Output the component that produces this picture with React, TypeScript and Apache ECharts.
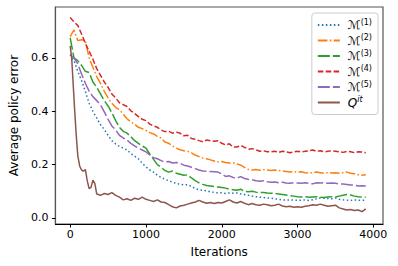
import React, { useEffect, useRef } from "react";
import * as echarts from "echarts";

const ITER = [
  0, 50, 100, 150, 200, 250, 300, 350, 400, 450, 500, 550, 600, 650, 700, 750, 800, 850, 900, 950,
  1000, 1050, 1100, 1150, 1200, 1250, 1300, 1350, 1400, 1450, 1500, 1550, 1600, 1650, 1700, 1750, 1800, 1850, 1900, 1950,
  2000, 2050, 2100, 2150, 2200, 2250, 2300, 2350, 2400, 2450, 2500, 2550, 2600, 2650, 2700, 2750, 2800, 2850, 2900, 2950,
  3000, 3050, 3100, 3150, 3200, 3250, 3300, 3350, 3400, 3450, 3500, 3550, 3600, 3650, 3700, 3750, 3800, 3850, 3900,
];

const M1 = [
  0.612, 0.59, 0.55, 0.515, 0.475, 0.43, 0.4, 0.375, 0.35, 0.332, 0.31, 0.29, 0.278, 0.268, 0.262, 0.255, 0.242, 0.232, 0.222, 0.205,
  0.192, 0.18, 0.172, 0.16, 0.152, 0.145, 0.14, 0.134, 0.13, 0.126, 0.124, 0.125, 0.118, 0.11, 0.106, 0.104, 0.102, 0.098, 0.096, 0.094,
  0.095, 0.092, 0.094, 0.093, 0.094, 0.09, 0.088, 0.085, 0.082, 0.08, 0.078, 0.077, 0.075, 0.074, 0.072, 0.07, 0.068, 0.067, 0.068, 0.067,
  0.066, 0.067, 0.068, 0.066, 0.068, 0.072, 0.075, 0.074, 0.073, 0.072, 0.075, 0.07, 0.068, 0.067, 0.066, 0.068, 0.067, 0.066, 0.067,
];

const M2 = [
  0.68, 0.705, 0.665, 0.668, 0.665, 0.6, 0.565, 0.53, 0.505, 0.475, 0.45, 0.43, 0.415, 0.405, 0.39, 0.372, 0.36, 0.352, 0.34, 0.335,
  0.328, 0.32, 0.315, 0.306, 0.3, 0.285, 0.28, 0.27, 0.262, 0.256, 0.252, 0.25, 0.244, 0.236, 0.23, 0.225, 0.222, 0.218, 0.214, 0.21,
  0.212, 0.208, 0.206, 0.207, 0.203, 0.198, 0.19, 0.182, 0.18, 0.182, 0.179, 0.181, 0.18, 0.178, 0.18, 0.178, 0.176, 0.174, 0.172, 0.174,
  0.172, 0.173, 0.17, 0.168, 0.17, 0.172, 0.17, 0.168, 0.17, 0.169, 0.17, 0.168, 0.17, 0.172, 0.168, 0.166, 0.162, 0.16, 0.162,
];

const M3 = [
  0.675, 0.6, 0.59, 0.572, 0.55, 0.545, 0.51, 0.49, 0.465, 0.44, 0.42, 0.395, 0.365, 0.34, 0.325, 0.318, 0.305, 0.29, 0.28, 0.27,
  0.262, 0.24, 0.22, 0.2, 0.19, 0.178, 0.172, 0.176, 0.168, 0.164, 0.16, 0.162, 0.15, 0.14, 0.132, 0.126, 0.122, 0.12, 0.118, 0.116,
  0.114, 0.112, 0.108, 0.106, 0.104, 0.108, 0.1, 0.098, 0.1, 0.097, 0.095, 0.096, 0.094, 0.093, 0.092, 0.09, 0.088, 0.086, 0.084, 0.082,
  0.08, 0.079, 0.08, 0.078, 0.079, 0.08, 0.078, 0.077, 0.079, 0.08, 0.079, 0.082, 0.085, 0.088, 0.086, 0.082, 0.08, 0.079, 0.078,
];

const M4 = [
  0.752, 0.735, 0.722, 0.69, 0.655, 0.625, 0.595, 0.56, 0.535, 0.51, 0.49, 0.465, 0.45, 0.432, 0.425, 0.418, 0.402, 0.392, 0.38, 0.37,
  0.365, 0.352, 0.345, 0.34, 0.33, 0.324, 0.325, 0.318, 0.322, 0.318, 0.308, 0.31, 0.298, 0.295, 0.29, 0.286, 0.292, 0.29, 0.288, 0.29,
  0.28, 0.274, 0.278, 0.266, 0.266, 0.272, 0.265, 0.258, 0.26, 0.256, 0.25, 0.252, 0.248, 0.248, 0.25, 0.246, 0.25, 0.248, 0.245, 0.248,
  0.25, 0.247, 0.25, 0.252, 0.255, 0.25, 0.252, 0.248, 0.25, 0.252, 0.25, 0.248, 0.246, 0.25, 0.248, 0.245, 0.248, 0.247, 0.245,
];

const M5 = [
  0.612, 0.6, 0.578, 0.54, 0.505, 0.475, 0.455, 0.44, 0.425, 0.398, 0.37, 0.345, 0.33, 0.31, 0.3, 0.292, 0.28, 0.27, 0.262, 0.255,
  0.248, 0.236, 0.226, 0.222, 0.215, 0.21, 0.212, 0.206, 0.208, 0.205, 0.198, 0.195, 0.19, 0.185, 0.18, 0.176, 0.175, 0.174, 0.173, 0.172,
  0.165, 0.156, 0.158, 0.152, 0.15, 0.155, 0.148, 0.145, 0.143, 0.14, 0.138, 0.14, 0.136, 0.134, 0.135, 0.132, 0.134, 0.131, 0.13, 0.132,
  0.131, 0.13, 0.132, 0.13, 0.128, 0.132, 0.131, 0.133, 0.13, 0.131, 0.13, 0.128, 0.127, 0.126, 0.124, 0.123, 0.12, 0.121, 0.12,
];

const QIT_ITER = [
  0, 20, 40, 60, 80, 100, 125, 150, 175, 200, 225, 250, 275, 300, 325, 350,
  400, 450, 500, 550, 600, 650, 700, 750, 800, 850, 900, 950,
  1000, 1050, 1100, 1150, 1200, 1250, 1300, 1350, 1400, 1450, 1500, 1550, 1600, 1650, 1700, 1750, 1800, 1850, 1900, 1950,
  2000, 2050, 2100, 2150, 2200, 2250, 2300, 2350, 2400, 2450, 2500, 2550, 2600, 2650, 2700, 2750, 2800, 2850, 2900, 2950,
  3000, 3050, 3100, 3150, 3200, 3250, 3300, 3350, 3400, 3450, 3500, 3550, 3600, 3650, 3700, 3750, 3800, 3850, 3900,
];

const QIT = [
  0.645, 0.6, 0.5, 0.4, 0.31, 0.235, 0.195, 0.18, 0.175, 0.182, 0.14, 0.11, 0.115, 0.142, 0.13, 0.09,
  0.085, 0.092, 0.088, 0.095, 0.085, 0.078, 0.068, 0.072, 0.066, 0.074, 0.07, 0.078,
  0.07, 0.066, 0.062, 0.068, 0.06, 0.058, 0.05, 0.042, 0.038, 0.045, 0.048, 0.052, 0.056, 0.06, 0.066, 0.06, 0.055, 0.058, 0.054, 0.058,
  0.056, 0.062, 0.068, 0.06, 0.056, 0.062, 0.055, 0.05, 0.054, 0.05, 0.048, 0.052, 0.05, 0.046, 0.048, 0.052, 0.045, 0.042, 0.044, 0.04,
  0.042, 0.04, 0.044, 0.046, 0.05, 0.048, 0.052, 0.048, 0.044, 0.046, 0.048, 0.038, 0.034, 0.03, 0.032, 0.028, 0.03, 0.024, 0.034,
];

const X_TICKS = [0, 1000, 2000, 3000, 4000];
const Y_TICKS = [0, 0.2, 0.4, 0.6];

const FONT = "DejaVu Sans";

export default function App() {
  const ref = useRef<HTMLDivElement>(null);

  useEffect(() => {
    if (!ref.current) return;
    const chart = echarts.init(ref.current, null, { renderer: "svg" });

    const mk = (name: string, xs: number[], ys: number[], color: string, type: any) => ({
      name,
      type: "line",
      data: xs.map((x, i) => [x, ys[i]]),
      showSymbol: false,
      symbol: "none",
      lineStyle: { color, width: 1.5, type, cap: "butt" },
      itemStyle: { color },
      emphasis: { disabled: true },
    });

    const labelMap: Record<string, string> = {
      M1: "{m|ℳ}{s|(1)}",
      M2: "{m|ℳ}{s|(2)}",
      M3: "{m|ℳ}{s|(3)}",
      M4: "{m|ℳ}{s|(4)}",
      M5: "{m|ℳ}{s|(5)}",
      Qit: "{q|Q}{si|it}",
    };

    chart.setOption({
      animation: false,
      grid: {
        left: 49,
        right: 15,
        top: 7,
        bottom: 42,
        show: true,
        borderColor: "#555",
        borderWidth: 1.2,
      },
      legend: {
        orient: "vertical",
        right: 20,
        top: 13,
        itemWidth: 22,
        itemHeight: 10,
        itemGap: 2.5,
        padding: [5, 6, 6, 5],
        borderColor: "#cccccc",
        borderWidth: 1,
        borderRadius: 3,
        backgroundColor: "rgba(255,255,255,0.8)",
        itemStyle: { opacity: 0 },
        formatter: (n: string) => labelMap[n] ?? n,
        textStyle: {
          fontFamily: FONT,
          fontSize: 10,
          color: "#000",
          rich: {
            m: { fontFamily: FONT, fontSize: 12, fontStyle: "italic", padding: [0, 0, 0, 3], color: "#000" },
            s: { fontFamily: FONT, fontSize: 8, padding: [0, 0, 6, 0], color: "#000" },
            q: { fontFamily: FONT, fontSize: 12, fontStyle: "italic", padding: [0, 0, 0, 3], color: "#000" },
            si: { fontFamily: FONT, fontSize: 8, fontStyle: "italic", padding: [0, 0, 6, 0], color: "#000" },
          },
        },
        data: ["M1", "M2", "M3", "M4", "M5", "Qit"],
      },
      xAxis: {
        type: "value",
        min: -195,
        max: 4127,
        name: "Iterations",
        nameLocation: "middle",
        nameGap: 22,
        nameTextStyle: { fontFamily: FONT, fontSize: 12, color: "#000" },
        axisLine: { show: true, onZero: false, lineStyle: { color: "#000", width: 1 } },
        axisTick: { show: true, length: 3.5, lineStyle: { color: "#000" }, customValues: X_TICKS },
        axisLabel: {
          fontFamily: FONT,
          fontSize: 11,
          color: "#000",
          margin: 5,
          customValues: X_TICKS,
          formatter: (v: number) => String(v),
        },
        splitLine: { show: false },
      },
      yAxis: {
        type: "value",
        min: -0.0225,
        max: 0.791,
        name: "Average policy error",
        nameLocation: "middle",
        nameGap: 31,
        nameTextStyle: { fontFamily: FONT, fontSize: 12, color: "#000" },
        axisLine: { show: true, onZero: false, lineStyle: { color: "#555", width: 1.2 } },
        axisTick: { show: true, length: 3.5, lineStyle: { color: "#000" }, customValues: Y_TICKS },
        axisLabel: {
          fontFamily: FONT,
          fontSize: 11,
          color: "#000",
          margin: 7,
          customValues: Y_TICKS,
          formatter: (v: number) => v.toFixed(1),
        },
        splitLine: { show: false },
      },
      series: [
        mk("M1", ITER, M1, "#1f77b4", [1.5, 2.5]),
        mk("M2", ITER, M2, "#ff7f0e", [9.6, 2.4, 1.5, 2.4]),
        mk("M3", ITER, M3, "#2ca02c", [12, 3]),
        mk("M4", ITER, M4, "#d62728", [5.5, 2.4]),
        mk("M5", ITER, M5, "#9467bd", [12, 3]),
        mk("Qit", QIT_ITER, QIT, "#8c564b", "solid"),
      ],
    });

    return () => chart.dispose();
  }, []);

  return <div ref={ref} style={{ width: 398, height: 266, position: "absolute", left: 0, top: 0, background: "#fff" }} />;
}
